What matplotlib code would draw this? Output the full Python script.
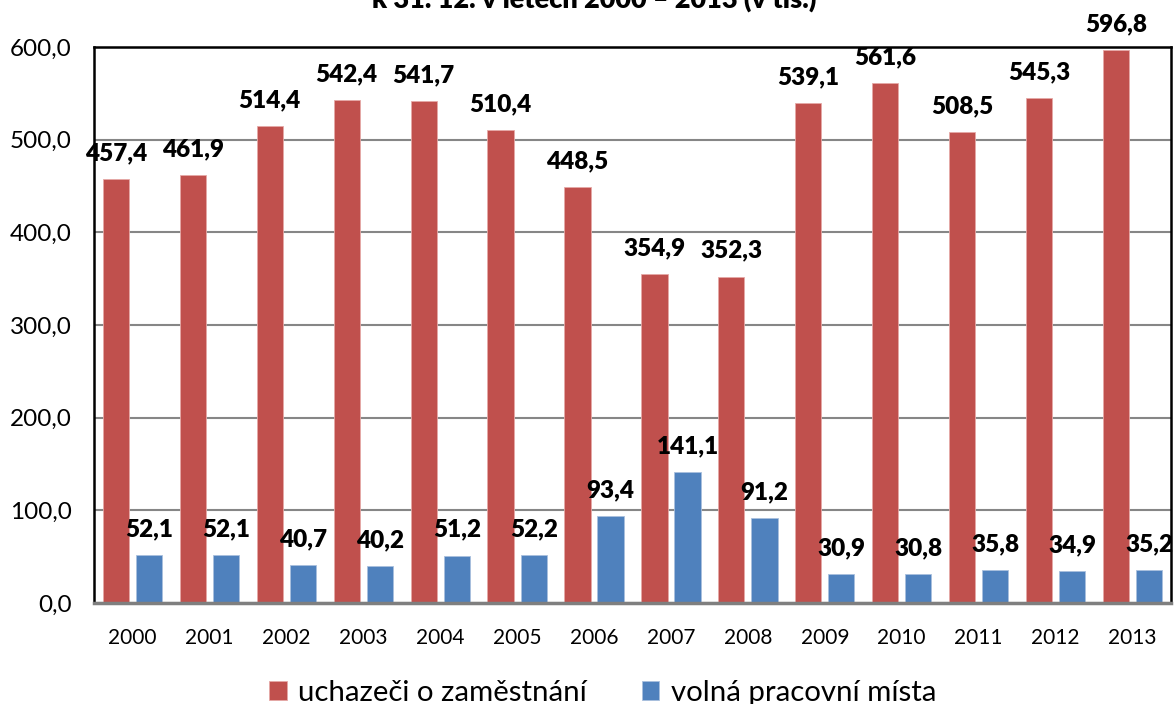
import matplotlib
matplotlib.use("Agg")
import matplotlib.pyplot as plt
import numpy as np

plt.rcParams['font.family'] = ['Lato', 'Open Sans', 'DejaVu Sans']

years = ["2000", "2001", "2002", "2003", "2004", "2005", "2006",
         "2007", "2008", "2009", "2010", "2011", "2012", "2013"]
uchazeci = [457.4, 461.9, 514.4, 542.4, 541.7, 510.4, 448.5,
            354.9, 352.3, 539.1, 561.6, 508.5, 545.3, 596.8]
volna_mista = [52.1, 52.1, 40.7, 40.2, 51.2, 52.2, 93.4,
               141.1, 91.2, 30.9, 30.8, 35.8, 34.9, 35.2]
series_names = ["uchazeči o zaměstnání", "volná pracovní místa"]
yticks = [0, 100, 200, 300, 400, 500, 600]
title = "k 31. 12. v letech 2000 – 2013 (v tis.)"

RED = "#C0504D"
BLUE = "#4F81BD"

fig = plt.figure(figsize=(11.76, 7.04), dpi=100)
ax = fig.add_axes([94/1176, 101/704, (1171-94)/1176, (603-47)/704])

x = np.arange(len(years))
w = 0.34
off = 0.215
b1 = ax.bar(x - off, uchazeci, w, color=RED, edgecolor="#E6A9A7", linewidth=0.6,
            label=series_names[0], zorder=3)
b2 = ax.bar(x + off, volna_mista, w, color=BLUE, edgecolor="#A9C0DE", linewidth=0.6,
            label=series_names[1], zorder=3)

def fmt(v):
    return f"{v:.1f}".replace(".", ",")

for bars, vals in ((b1, uchazeci), (b2, volna_mista)):
    for r, v in zip(bars, vals):
        ax.annotate(fmt(v), (r.get_x() + r.get_width()/2, v),
                    xytext=(0, 13.5), textcoords="offset points",
                    ha="center", va="baseline", fontsize=17.5, fontweight="heavy",
                    color="black", annotation_clip=False, zorder=5)

ax.set_xlim(-0.5, len(years) - 0.5)
ax.set_ylim(0, 600)
ax.set_yticks(yticks)
ax.set_yticklabels([fmt(float(t)) for t in yticks], fontsize=17.5)
ax.set_xticks(x)
ax.set_xticklabels(years, fontsize=15)
ax.tick_params(axis="y", length=0, pad=16)
ax.tick_params(axis="x", length=0, pad=18)
ax.yaxis.grid(True, color="#868686", linewidth=1.5, zorder=0)
ax.set_axisbelow(True)
for s in ("left", "top", "right"):
    ax.spines[s].set_color("black")
    ax.spines[s].set_linewidth(1.8)
ax.spines["bottom"].set_color("#7F7F7F")
ax.spines["bottom"].set_linewidth(2.5)
ax.spines["bottom"].set_zorder(4)

fig.text(0.5055, 1 - 8/704, title, ha="center", va="baseline",
         fontsize=19.5, fontweight="heavy")

fig.legend(loc="lower center", bbox_to_anchor=(0.5125, -0.024), ncol=2,
           frameon=False, fontsize=21.2, handlelength=0.6, handleheight=0.6,
           handletextpad=0.4, columnspacing=1.85, borderpad=0)

fig.savefig("out.png", dpi=100)
